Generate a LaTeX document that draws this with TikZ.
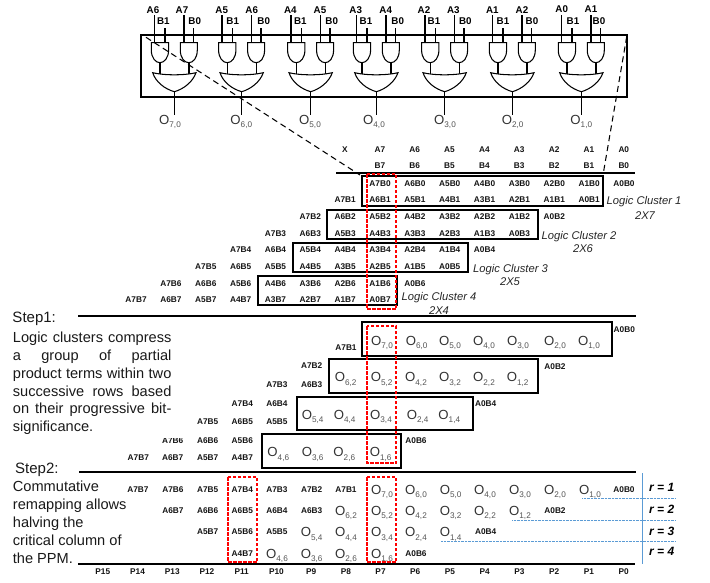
\documentclass[tikz,border=0pt]{standalone}
\usepackage{fontspec}
\setmainfont{Liberation Sans}
\newcommand{\oterm}[2]{\textcolor{otxt}{O\raisebox{-3.6pt}{\textcolor{osub}{\fontsize{8.2}{8.2}\selectfont #1,#2}}}}
\newcommand{\jline}[1]{\makebox[158.5pt][s]{#1}}
\definecolor{otxt}{HTML}{333333}
\definecolor{osub}{HTML}{555555}
\definecolor{rbox}{HTML}{FF0000}
\definecolor{rblue}{HTML}{5B9BD5}
\tikzset{
  pp/.style={font=\bfseries\fontsize{8.3}{10}\selectfont,anchor=base,inner sep=0pt,text=black!92},
  inlab/.style={font=\bfseries\fontsize{9.8}{11}\selectfont,anchor=base,inner sep=0pt},
  oo/.style={font=\fontsize{13.2}{15}\selectfont,anchor=base,inner sep=0pt},
  cl/.style={font=\itshape\fontsize{11.2}{13}\selectfont,anchor=base,inner sep=0pt,text=black!85},
  body/.style={font=\fontsize{14.6}{17.8}\selectfont,anchor=north west,inner sep=0pt,align=left,text=black!90},
  stp/.style={font=\fontsize{15}{17}\selectfont,anchor=base west,inner sep=0pt,text=black!90},
  rr/.style={font=\bfseries\itshape\fontsize{12}{14}\selectfont,anchor=base,inner sep=0pt},
  wire/.style={line width=1.05pt},
  gate/.style={line width=1.05pt,fill=white},
  bx/.style={line width=1.6pt},
  rule/.style={line width=1.6pt},
  crit/.style={draw=rbox,line width=1.6pt,dash pattern=on 3.5pt off 1.5pt},
  rdot/.style={draw=rblue,line width=0.7pt,dash pattern=on 0.8pt off 0.6pt},
  slash/.style={line width=1.05pt,dash pattern=on 6pt off 4pt}
}
\begin{document}
\begin{tikzpicture}[x=1pt,y=-1pt]
\useasboundingbox (0,0) rectangle (710,582);
% ---- gate row
\draw[line width=1.6pt] (141,35) rectangle (627,97);
\foreach \ax in {154.7,222,291,356.7,425,492.7,561.7}{
 \begin{scope}[shift={(\ax,0)}]
  \draw[wire] (0,15) -- (0,42.7) (10.3,28.3) -- (10.3,42.7);
  \draw[wire] (29.3,15) -- (29.3,42.7) (39,28.3) -- (39,42.7);
  \draw[gate] (-3.4,42.7) -- (13.9,42.7) -- (13.9,50) .. controls (13.9,58) and (9.5,62.7) .. (5.2,62.7) .. controls (1,62.7) and (-3.4,58) .. (-3.4,50) -- cycle;
  \draw[gate] (25.6,42.7) -- (42.6,42.7) -- (42.6,50) .. controls (42.6,58) and (38.5,62.7) .. (34.1,62.7) .. controls (29.8,62.7) and (25.6,58) .. (25.6,50) -- cycle;
  \draw[wire] (5.3,62.7) -- (5.3,75) (34.3,62.7) -- (34.3,75);
  \draw[gate] (-2,72.7) .. controls (9,75.5) and (30,75.5) .. (41.3,72.7) .. controls (38,82) and (29,89) .. (19.7,91.7) .. controls (10,89) and (1,82) .. (-2,72.7) -- cycle;
  \draw[wire] (19.8,91.7) -- (19.8,114.5);
 \end{scope}
}
\foreach \nm/\tx/\x/\y in {
 a/A6/153/13,b/B1/163.3/24.4,c/A7/182/13,d/B0/194.7/24.4,
 e/A5/221.7/13,f/B1/232.7/24.4,g/A6/251.7/13,h/B0/263.7/24.4,
 i/A4/290.3/13,j/B1/300.3/24.4,k/A5/320/13,l/B0/331.7/24.4,
 m/A3/355.7/13,n/B1/366/24.4,o/A4/385.7/13,p/B0/397.7/24.4,
 q/A2/424/13,r/B1/434/24.4,s/A3/453.3/13,t/B0/465.3/24.4,
 u/A1/492.3/13,v/B1/503/24.4,w/A2/522/13,x/B0/532/24.4,
 y/A0/561.7/12.3,z/B1/573/24.4,aa/A1/591/12.3,ab/B0/599/24.4}{
 \node[inlab] (in\nm) at (\x,\y) {\tx};
}
\foreach \a/\x in {7/170,6/241.3,5/310,4/374,3/445,2/512.7,1/581.3}{
 \node[oo] (g\a) at (\x,124) {\oterm{\a}{0}};
}
% ---- dashed projection lines
\coordinate (pl1) at (146,37.3); \coordinate (pl2) at (360,175);
\coordinate (pr1) at (626.7,36.7); \coordinate (pr2) at (603.3,173.3);
\draw[slash] (pl1) -- (pl2);
\draw[slash] (pr1) -- (pr2);
% ---- header
\node[pp] (hx) at (345,152) {X};
\foreach \i/\k in {7/1,6/2,5/3,4/4,3/5,2/6,1/7,0/8}{
 \pgfmathsetmacro{\xx}{345+34.85*\k}
 \node[pp] (ha\i) at (\xx,152) {A\i};
 \node[pp] (hb\i) at (\xx,168.7) {B\i};
}
\draw[rule] (336,173) -- (635,173);
% ---- partial products
\foreach \j/\ry in {0/186.3,1/202,2/219,3/236,4/252,5/269,6/286,7/302}{
 \foreach \i in {0,...,7}{
  \pgfmathsetmacro{\xx}{624-34.85*(\i+\j)}
  \node[pp] (p\i\j) at (\xx,\ry) {A\i B\j};
 }
}
\draw[bx] (362,176) rectangle (603,206);
\draw[bx] (327,210) rectangle (538,239);
\draw[bx] (293,243) rectangle (468,272);
\draw[bx] (258,276) rectangle (397,305);
\draw[crit] (367,174) rectangle (396,309);
\node[cl] (c1a) at (644,204.5) {Logic Cluster 1};
\node[cl] (c1b) at (645,219) {2X7};
\node[cl] (c2a) at (579,239) {Logic Cluster 2};
\node[cl] (c2b) at (583,252) {2X6};
\node[cl] (c3a) at (510.5,272) {Logic Cluster 3};
\node[cl] (c3b) at (510,285) {2X5};
\node[cl] (c4a) at (439,300) {Logic Cluster 4};
\node[cl] (c4b) at (439,314) {2X4};
% ---- step 1
\draw[rule] (78,316) -- (636,316);
\node[stp] (st1) at (12.3,322) {Step1:};
\node[body] (tx1) at (12.7,332) {\jline{Logic clusters compress}\\\jline{a group of partial}\\\jline{product terms within two}\\\jline{successive rows based}\\\jline{on their progressive bit-}\\significance.};
\draw[bx] (362,322) rectangle (612,356);
\draw[bx] (329,359) rectangle (538,393);
\draw[bx] (297,397) rectangle (473,430);
\draw[bx] (262,434) rectangle (401,468);
\foreach \n/\x/\y in {A7B1/346/350,A0B0/624.3/332,A7B2/311.7/368.7,A7B3/277/387,A6B3/311.7/387,A0B2/555/369,
 A7B4/242.3/406,A6B4/277/406,A0B4/485.7/406,A7B5/207.7/424,A6B5/242.3/424,A5B5/277/424,
 A7B6/172.7/443,A6B6/207.7/443,A5B6/242.3/443,A0B6/416/443,
 A7B7/138.3/460.7,A6B7/172.7/460.7,A5B7/207.7/460.7,A4B7/242.3/460.7}{
 \node[pp] (u\n) at (\x,\y) {\n};
}
\fill[white] (160,430) rectangle (186,438.4);
\foreach \a/\b/\x/\y in {7/0/382/345,6/0/416.7/345,5/0/450/345,4/0/484/345,3/0/518/345,2/0/555/345,1/0/589/345,
 6/2/345.7/381.5,5/2/381.7/381.5,4/2/416/381.5,3/2/450/381.5,2/2/484/381.5,1/2/517.7/381.5,
 5/4/312.7/419,4/4/344.7/419,3/4/381/419,2/4/417.7/419,1/4/449.3/419,
 4/6/278.3/456.5,3/6/312.7/456.5,2/6/344.3/456.5,1/6/380.7/456.5}{
 \node[oo] (s\a\b) at (\x,\y) {\oterm{\a}{\b}};
}
\draw[crit] (367,326) rectangle (396,463);
% ---- step 2
\draw[rule] (79,472) -- (636,472);
\node[stp] (st2) at (15,473) {Step2:};
\node[body] (tx2) at (12.7,481.2) {Commutative\\remapping allows\\halving the\\critical column of\\the PPM.};
\foreach \n/\x/\y in {A7B7/138/492,A7B6/173/492,A7B5/207.7/492,A7B4/242.3/492,A7B3/277/492,A7B2/311.7/492,A7B1/346/492,A0B0/624/492,
 A6B7/173/513,A6B6/207.7/513,A6B5/242.3/513,A6B4/277/513,A6B3/311.7/513,A0B2/555/513,
 A5B7/207.7/534.7,A5B6/242.3/534.7,A5B5/277/534.7,A0B4/485.7/534.7,
 A4B7/242.3/556,A0B6/416/556}{
 \node[pp] (v\n) at (\x,\y) {\n};
}
\foreach \a/\b/\x/\y in {7/0/382/494,6/0/416/494,5/0/450.7/494,4/0/485/494,3/0/520/494,2/0/555/494,1/0/590/494,
 6/2/346/515,5/2/382/515,4/2/416/515,3/2/450.7/515,2/2/485/515,1/2/520/515,
 5/4/311.7/536.5,4/4/346/536.5,3/4/382/536.5,2/4/416/536.5,1/4/450.7/536.5,
 4/6/277/558,3/6/311.7/558,2/6/346/558,1/6/382/558}{
 \node[oo] (r\a\b) at (\x,\y) {\oterm{\a}{\b}};
}
\draw[crit] (228,477) rectangle (257,562);
\draw[crit] (367,477) rectangle (396,562);
\draw[rule] (78,564) -- (635,564);
\foreach \k in {0,...,15}{
 \pgfmathsetmacro{\xx}{623.6-34.72*\k}
 \node[pp] (pc\k) at (\xx,574.7) {P\k};
}
% ---- r markers
\draw[rblue,line width=0.9pt] (642.5,473) -- (642.5,564);
\draw[rdot] (582.3,498.5) -- (675.7,498.5);
\draw[rdot] (512.3,520.5) -- (675.7,520.5);
\draw[rdot] (441,541.5) -- (675.7,541.5);
\node[rr] (r1) at (661.7,491.8) {r = 1};
\node[rr] (r2) at (661.7,513.4) {r = 2};
\node[rr] (r3) at (661.7,535.1) {r = 3};
\node[rr] (r4) at (661.7,555.8) {r = 4};
\end{tikzpicture}
\end{document}
